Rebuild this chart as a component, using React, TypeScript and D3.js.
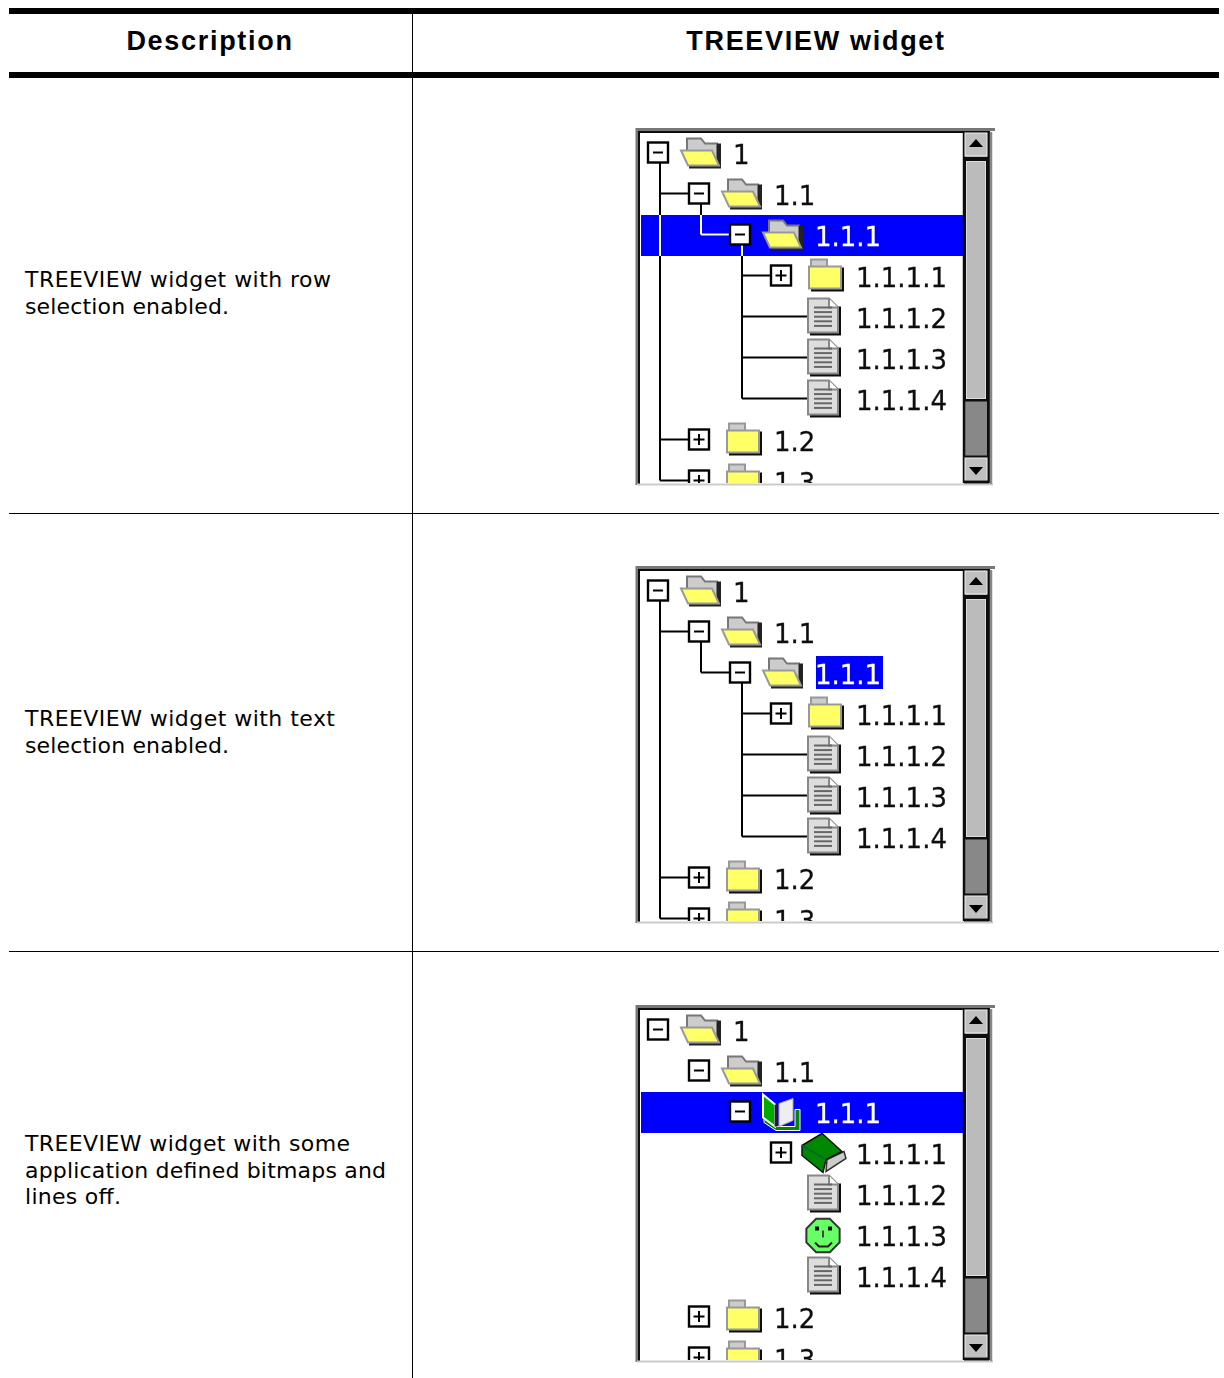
import React from 'react'
import * as d3 from 'd3'

const width = 1224
const height = 1378

// table content
const headers = ['Description', 'TREEVIEW widget']
const descriptions = [
    ['TREEVIEW widget with row', 'selection enabled.'],
    ['TREEVIEW widget with text', 'selection enabled.'],
    ['TREEVIEW widget with some', 'application defined bitmaps and', 'lines off.'],
]
const descriptionWidths = [
    [306, 204],
    [310, 204],
    [325, 361, 96],
]
const descriptionBaselines = [287, 726, 1151]
const panelModes = ['row', 'text', 'bitmaps']
const panelTops = [129, 567, 1006]

// tree rows
const rowLabels = ['1', '1.1', '1.1.1', '1.1.1.1', '1.1.1.2', '1.1.1.3', '1.1.1.4', '1.2', '1.3']
const rowLevels = [0, 1, 2, 3, 3, 3, 3, 1, 1]
const rowParents = [-1, 0, 1, 2, 2, 2, 2, 0, 0]
const rowExpanders = ['minus', 'minus', 'minus', 'plus', null, null, null, 'plus', 'plus']
const rowIcons = ['open', 'open', 'open', 'closed', 'doc', 'doc', 'doc', 'closed', 'closed']
const customIcons = ['open', 'open', 'bookOpen', 'book', 'doc', 'smiley', 'doc', 'closed', 'closed']
const selectedRow = 2

const rowScale = d3.scaleLinear().domain([0, 1]).range([153.5, 194.5])
const levelScale = d3.scaleLinear().domain([0, 1]).range([658, 699])

const Folder = ({ open }: { open: boolean }) =>
    open ? (
        <g>
            <path d="M-14,-15H0L4,-10H16V8H-14Z" fill="#ccc" stroke="#777" strokeWidth={2} />
            <path d="M16,-10H20V15H-12V12H16Z" fill="#222" />
            <path d="M-20,-3H11L18,12H-13Z" fill="#ffff66" stroke="#999" strokeWidth={2} />
        </g>
    ) : (
        <g>
            <path d="M-14,-10V-17H2V-10" fill="#ccc" stroke="#999" strokeWidth={2} />
            <path d="M16,-9H19V15H-14V12H16Z" fill="#111" />
            <rect x={-16} y={-10} width={32} height={22} fill="#ffff66" stroke="#999" strokeWidth={2} />
        </g>
    )

const Doc = () => (
    <g>
        <path d="M15,-11H18V18H-13V15H15Z" fill="#111" />
        <path d="M-15,-19H6L15,-10V15H-15Z" fill="#ddd" stroke="#888" strokeWidth={2} />
        <path d="M6,-19V-10H15" fill="#fff" stroke="#888" strokeWidth={2} />
        {d3.range(5).map((i) => (
            <line key={i} x1={-9} x2={9} y1={-10 + i * 4.6} y2={-10 + i * 4.6} stroke="#666" strokeWidth={2} />
        ))}
    </g>
)

const BookOpen = () => (
    <g>
        <path d="M-17,-3V10L-5,18H19V-3H14V14H-5Z" fill="#008800" stroke="#fff" strokeWidth={1} />
        <path d="M-18,-18L-6,-8V14L-18,5Z" fill="#00aa00" stroke="#fff" strokeWidth={2} />
        <path d="M-5,-8V14" stroke="#222" strokeWidth={3} />
        <path d="M-2,-9L12,-14V8L-2,14Z" fill="#eee" stroke="#aaa" strokeWidth={1} />
    </g>
)

const Book = () => (
    <g>
        <path d="M4,6L21,-2L23,5L3,18Z" fill="#ccc" stroke="#333" strokeWidth={1.5} />
        <path d="M-21,-8L-1,-20L19,-2L3,6L0,19L-21,2Z" fill="#008800" stroke="#111" strokeWidth={1.5} />
        <path d="M-21,-8L3,6" stroke="#063" strokeWidth={1.5} />
    </g>
)

const smileyOutline = d3
    .lineRadial<number>()
    .curve(d3.curveLinearClosed)
    .angle((d) => (Math.PI / 4) * (d + 0.5))
    .radius(18)

const Smiley = () => (
    <g>
        <path d={smileyOutline(d3.range(8)) as string} fill="#66ff66" stroke="#333" strokeWidth={2} />
        <rect x={-8} y={-9} width={4} height={4} fill="#111" />
        <rect x={5} y={-9} width={4} height={4} fill="#111" />
        <path d="M0,-5V2" stroke="#444" strokeWidth={2} />
        <path d="M-8,7L-4,11H5L9,7" fill="none" stroke="#222" strokeWidth={2} />
    </g>
)

// icon x offset from its row's expander, per icon type
const iconOffset: Record<string, number> = { open: 43, closed: 44, doc: 42, bookOpen: 41, book: 42, smiley: 42 }

const Icon = ({ kind }: { kind: string }) => {
    if (kind === 'open') return <Folder open />
    if (kind === 'closed') return <Folder open={false} />
    if (kind === 'doc') return <Doc />
    if (kind === 'bookOpen') return <BookOpen />
    if (kind === 'book') return <Book />
    return <Smiley />
}

const treeLines = () => {
    const segs: string[] = []
    const last = new Map<number, number>()
    rowParents.forEach((p, i) => {
        if (p >= 0) last.set(p, i)
    })
    last.forEach((child, p) => {
        const x = levelScale(rowLevels[p]) + 2
        segs.push(`M${x},${rowScale(p) + 9}V${rowScale(child) - 1}`)
    })
    rowParents.forEach((p, i) => {
        if (p < 0) return
        const x = levelScale(rowLevels[p]) + 2
        const end = levelScale(rowLevels[i]) + (rowExpanders[i] ? -10 : 28)
        segs.push(`M${x},${rowScale(i) - 1}H${end}`)
    })
    return segs.join('')
}

const ScrollButton = ({ y, up }: { y: number; up: boolean }) => (
    <g>
        <rect x={965} y={y} width={22} height={23} fill="#c0c0c0" stroke="#eee" strokeWidth={1} />
        <path d={up ? `M976,${y + 6}l7,8h-14z` : `M976,${y + 17}l7,-8h-14z`} fill="#000" />
    </g>
)

const Widget = ({ mode, top, index }: { mode: string; top: number; index: number }) => {
    const showLines = mode !== 'bitmaps'
    const icons = mode === 'bitmaps' ? customIcons : rowIcons
    const rowSelect = mode !== 'text'
    const tree = treeLines()
    return (
        <g transform={`translate(0,${top - 129})`} filter="url(#soft)">
            <clipPath id={`view${index}`}>
                <rect x={640} y={133} width={323} height={350} />
            </clipPath>
            <clipPath id={`band${index}`}>
                <rect x={640} y={215} width={323} height={41} />
            </clipPath>
            <rect x={637} y={129} width={356} height={355} fill="#fff" />
            <g clipPath={`url(#view${index})`}>
                {rowSelect && <rect x={641} y={215} width={322} height={41} fill="#0000ff" />}
                {showLines && <path d={tree} fill="none" stroke="#000" strokeWidth={2} />}
                {showLines && rowSelect && (
                    <path d={tree} fill="none" stroke="#fff" strokeWidth={2} clipPath={`url(#band${index})`} />
                )}
                {rowLabels.map((label, i) => {
                    const cy = rowScale(i)
                    const bx = levelScale(rowLevels[i])
                    const kind = icons[i]
                    const selected = i === selectedRow
                    return (
                        <g key={label}>
                            {rowExpanders[i] && (
                                <g transform={`translate(${bx},${cy - 1})`}>
                                    <rect x={-10} y={-10} width={20} height={20} fill="#fff" stroke="#000" strokeWidth={2.4} />
                                    <path
                                        d={rowExpanders[i] === 'minus' ? 'M-5,0H5' : 'M-5.5,0H5.5M0,-5.5V5.5'}
                                        stroke="#000"
                                        strokeWidth={2}
                                    />
                                </g>
                            )}
                            <g transform={`translate(${bx + iconOffset[kind]},${cy})`}>
                                <Icon kind={kind} />
                            </g>
                            {selected && !rowSelect && (
                                <rect x={bx + 76} y={cy - 17.5} width={67} height={33} fill="#0000ff" />
                            )}
                            <text
                                x={bx + 75}
                                y={cy + 10.5}
                                fontFamily="DejaVu Sans"
                                fontSize={26}
                                stroke={selected ? '#fff' : '#111'}
                                strokeWidth={0.3}
                                fill={selected ? '#fff' : '#111'}
                            >
                                {label}
                            </text>
                        </g>
                    )
                })}
            </g>
            {/* frame */}
            <path d="M637,485V129.5H995" fill="none" stroke="#777" strokeWidth={3} />
            <path d="M639,484V132H990" fill="none" stroke="#111" strokeWidth={2} />
            <path d="M637,484.5H993" stroke="#ccc" strokeWidth={2} />
            {/* scrollbar */}
            <rect x={963} y={133} width={27} height={350} fill="#888" />
            <rect x={965} y={160} width={22} height={240} fill="#bbb" stroke="#111" strokeWidth={3} />
            <rect x={966.5} y={161.5} width={19} height={237} fill="#bbb" stroke="#ddd" strokeWidth={1} />
            <path d="M964,133V483" stroke="#111" strokeWidth={2.5} />
            <path d="M988.5,133V483" stroke="#111" strokeWidth={3} />
            <path d="M991,132V484" stroke="#888" strokeWidth={2.5} />
            <ScrollButton y={133} up />
            <path d="M964,158.5H989" stroke="#111" strokeWidth={3} />
            <path d="M964,457H989" stroke="#111" strokeWidth={3} />
            <ScrollButton y={458} up={false} />
            <path d="M964,482H989" stroke="#111" strokeWidth={3} />
        </g>
    )
}

const App = () => (
    <svg width={width} height={height} style={{ position: 'absolute', left: 0, top: 0, background: '#fff' }}>
        <defs>
            <filter id="soft" x="-2%" y="-2%" width="104%" height="104%">
                <feGaussianBlur stdDeviation={0.55} />
            </filter>
        </defs>
        <rect x={9} y={8} width={1210} height={6} fill="#000" />
        <rect x={9} y={72} width={1210} height={6} fill="#000" />
        <rect x={412} y={14} width={1} height={1364} fill="#000" />
        <rect x={9} y={513} width={1210} height={1} fill="#000" />
        <rect x={9} y={951} width={1210} height={1} fill="#000" />
        {headers.map((h, i) => (
            <text
                key={h}
                x={i === 0 ? 210 : 816}
                y={50}
                textAnchor="middle"
                fontFamily="Liberation Sans"
                fontWeight="bold"
                fontSize={27}
                letterSpacing={1.7}
                fill="#000"
            >
                {h}
            </text>
        ))}
        {descriptions.map((lines, i) => (
            <g key={i}>
                {lines.map((line, j) => (
                    <text
                        key={j}
                        x={25}
                        y={descriptionBaselines[i] + j * 26.5}
                        fontFamily="DejaVu Sans"
                        fontSize={22}
                        textLength={descriptionWidths[i][j]}
                        lengthAdjust="spacing"
                        fill="#000"
                    >
                        {line}
                    </text>
                ))}
            </g>
        ))}
        {panelModes.map((mode, i) => (
            <Widget key={mode} mode={mode} top={panelTops[i]} index={i} />
        ))}
    </svg>
)

export default App
